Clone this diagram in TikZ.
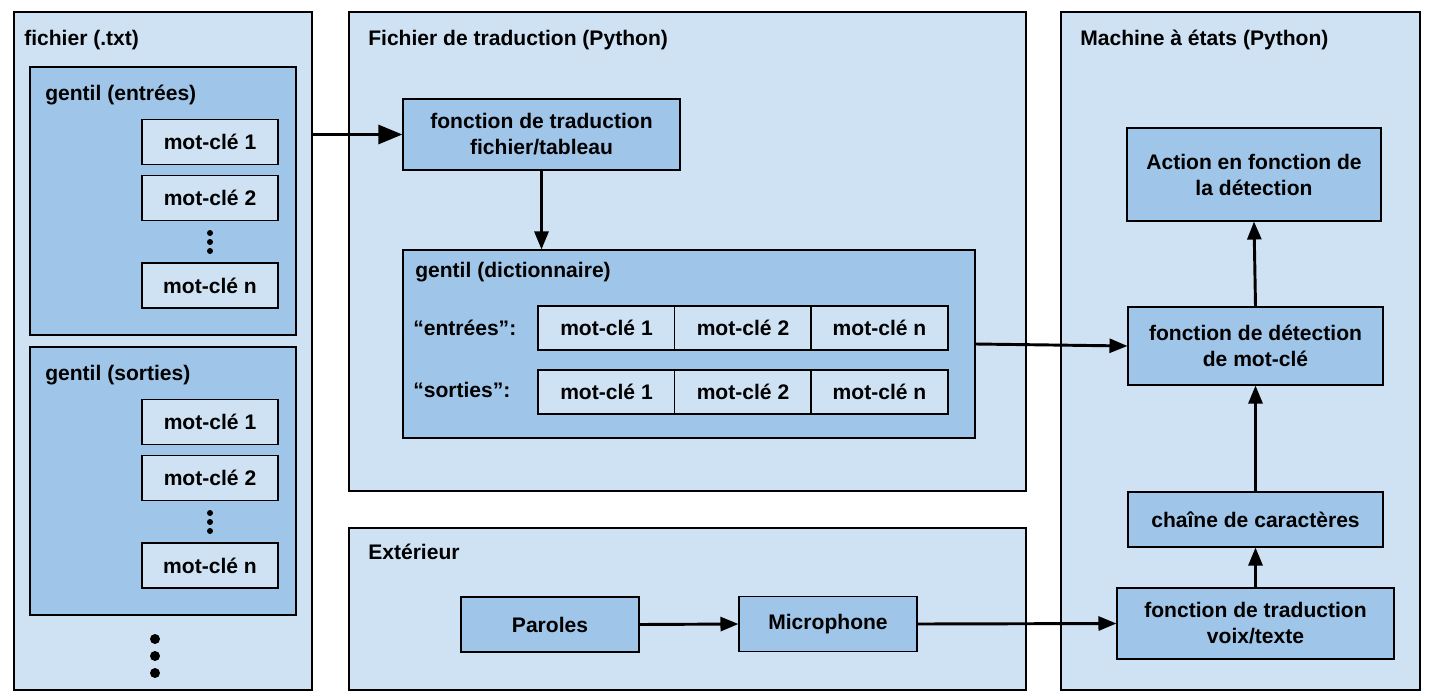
\documentclass[tikz,border=0pt]{standalone}
\usepackage{fontspec}
\setmainfont{Liberation Sans}
\usetikzlibrary{arrows.meta}
\definecolor{paleblue}{HTML}{CFE2F3}
\definecolor{midblue}{HTML}{9FC5E8}
\tikzset{
  txt/.style={font=\bfseries\fontsize{15.8}{19.5}\selectfont},
  sz/.style 2 args={minimum width=#1*0.75pt, minimum height=#2*0.75pt},
  zone/.style={draw=black, fill=paleblue, line width=0.8pt, inner sep=0pt},
  block/.style={draw=black, fill=midblue, line width=0.8pt, inner sep=0pt, align=center, txt},
  cell/.style={draw=black, fill=paleblue, line width=0.8pt, inner sep=0pt, align=center, txt},
  title/.style={anchor=west, inner sep=0pt, txt},
  flow/.style={line width=2.2pt, -{Triangle[length=13.5pt,width=10.5pt]}},
  dot/.style={circle, fill=black, inner sep=0pt, minimum size=#1}
}
\begin{document}
\begin{tikzpicture}[x=0.75pt,y=-0.75pt]
  \useasboundingbox (0,0) rectangle (1433,699);
  % zones
  \node[zone, sz={298}{678}] (fich) at (163,351) {};
  \node[zone, sz={677}{479}] (trad) at (687.5,251.5) {};
  \node[zone, sz={677}{162}] (ext) at (687.5,609) {};
  \node[zone, sz={359}{678}] (mach) at (1240.5,351) {};
  \node[title] (fichT) at (24,40) {fichier (.txt)};
  \node[title] (tradT) at (368,40) {Fichier de traduction (Python)};
  \node[title] (extT) at (368,552) {Extérieur};
  \node[title] (machT) at (1080,40) {Machine à états (Python)};
  % fichier
  \node[block, sz={266}{268}] (gin) at (163,201) {};
  \node[block, sz={266}{268}] (gout) at (163,481) {};
  \node[title] (ginT) at (45,95) {gentil (entrées)};
  \node[title] (goutT) at (45,375) {gentil (sorties)};
  \node[cell, sz={136}{45}] (in1) at (210,142) {mot-clé 1};
  \node[cell, sz={136}{45}] (in2) at (210,198) {mot-clé 2};
  \node[cell, sz={136}{45}] (inn) at (210,285.5) {mot-clé n};
  \node[cell, sz={136}{45}] (out1) at (210,422) {mot-clé 1};
  \node[cell, sz={136}{45}] (out2) at (210,478) {mot-clé 2};
  \node[cell, sz={136}{45}] (outn) at (210,565.5) {mot-clé n};
  \foreach \y [count=\i] in {233,242,251} {
    \node[dot=4.5pt] (din\i) at (210,\y) {};
    \node[dot=4.5pt] (dout\i) at (210,\y+280) {};
  }
  \foreach \y [count=\i] in {639,656,673}
    \node[dot=7.5pt] (dmore\i) at (155,\y) {};
  % traduction
  \node[block, sz={277}{71}] (ftab) at (541.5,134.5) {fonction de traduction\\fichier/tableau};
  \node[block, sz={572}{188}] (dict) at (689,344) {};
  \node[title] (dictT) at (415,272) {gentil (dictionnaire)};
  \node[title] (keyin) at (413,328) {“entrées”:};
  \node[title] (keyout) at (413,390) {“sorties”:};
  \foreach \x/\t [count=\i] in {606.5/1,743/2,879.5/n} {
    \node[cell, sz={137}{44}] (ein\i) at (\x,328) {mot-clé \t};
    \node[cell, sz={137}{44}] (eout\i) at (\x,392) {mot-clé \t};
  }
  % exterieur
  \node[block, sz={178}{55}] (paroles) at (550,624.5) {Paroles};
  \node[block, sz={178}{55}] (micro) at (828,624) {Microphone};
  % machine
  \node[block, sz={254}{93}] (act) at (1254,174.5) {Action en fonction de\\la détection};
  \node[block, sz={255}{78}] (detect) at (1255.5,346) {fonction de détection\\de mot-clé};
  \node[block, sz={255}{55}] (chaine) at (1255.5,519.5) {chaîne de caractères};
  \node[block, sz={277}{71}] (voix) at (1255.5,623.5) {fonction de traduction\\voix/texte};
  % links
  \begin{scope}[flow]
    \draw[line width=2.8pt, -{Triangle[length=18pt,width=14pt]}] (fich.east |- ftab.west) to (ftab.west);
    \draw (ftab.south) to (ftab.south |- dict.north);
    \draw (dict.east) to (detect.west);
    \draw (detect.north) to (act.south);
    \draw (chaine.north) to (detect.south);
    \draw (voix.north) to (chaine.south);
    \draw (paroles.east) to (micro.west);
    \draw (micro.east) to (voix.west);
  \end{scope}
\end{tikzpicture}
\end{document}
